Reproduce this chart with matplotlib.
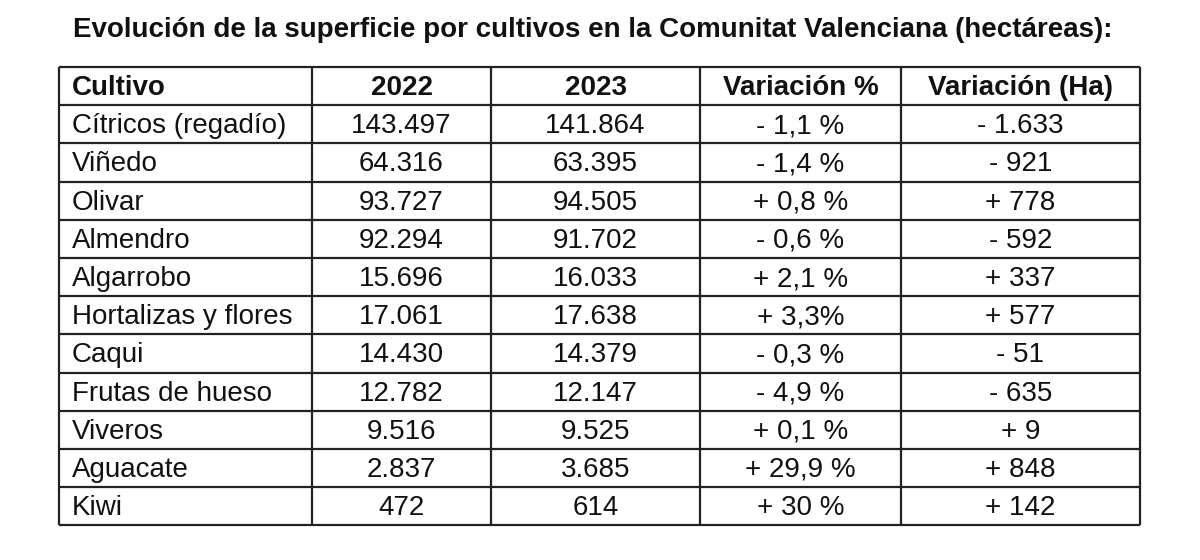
import matplotlib.pyplot as plt

plt.rcParams['font.family'] = ['Liberation Sans', 'DejaVu Sans']

title = 'Evolución de la superficie por cultivos en la Comunitat Valenciana (hectáreas):'
headers = ['Cultivo', '2022', '2023', 'Variación %', 'Variación (Ha)']
cultivos = ['Cítricos (regadío)', 'Viñedo', 'Olivar', 'Almendro', 'Algarrobo',
            'Hortalizas y flores', 'Caqui', 'Frutas de hueso', 'Viveros',
            'Aguacate', 'Kiwi']
sup_2022 = ['143.497', '64.316', '93.727', '92.294', '15.696', '17.061',
            '14.430', '12.782', '9.516', '2.837', '472']
sup_2023 = ['141.864', '63.395', '94.505', '91.702', '16.033', '17.638',
            '14.379', '12.147', '9.525', '3.685', '614']
var_pct = ['- 1,1 %', '- 1,4 %', '+ 0,8 %', '- 0,6 %', '+ 2,1 %', '+ 3,3%',
           '- 0,3 %', '- 4,9 %', '+ 0,1 %', '+ 29,9 %', '+ 30 %']
var_ha = ['- 1.633', '- 921', '+ 778', '- 592', '+ 337', '+ 577', '- 51',
          '- 635', '+ 9', '+ 848', '+ 142']

# layout in pixels
col_edges = [59, 312, 491, 700, 901, 1140]
top, row_h = 67, 38.2
n_rows = len(cultivos) + 1

fig = plt.figure(figsize=(12, 5.6), dpi=100)
ax = fig.add_axes([0, 0, 1, 1])
ax.set_xlim(0, 1200)
ax.set_ylim(560, 0)
ax.axis('off')

ax.text(73, 37, title, fontsize=20, fontweight='bold', va='baseline', ha='left', color='#111111')

bottom = top + n_rows * row_h
for x in col_edges:
    ax.plot([x, x], [top, bottom], color='#222222', lw=1.6, solid_capstyle='butt')
for i in range(n_rows + 1):
    y = top + i * row_h
    ax.plot([col_edges[0], col_edges[-1]], [y, y], color='#222222', lw=1.6, solid_capstyle='butt')

columns = [cultivos, sup_2022, sup_2023, var_pct, var_ha]
for j, (head, col) in enumerate(zip(headers, columns)):
    if j == 0:
        x, ha = col_edges[0] + 13, 'left'
    else:
        x, ha = (col_edges[j] + col_edges[j + 1]) / 2, 'center'
    ax.text(x, top + 28, head, fontsize=20, fontweight='bold',
            ha=ha, va='baseline', color='#111111')
    for i, val in enumerate(col):
        y = top + (i + 1) * row_h + 28
        ax.text(x, y, val, fontsize=20, ha=ha, va='baseline', color='#111111')

fig.savefig('out.png', dpi=100)
